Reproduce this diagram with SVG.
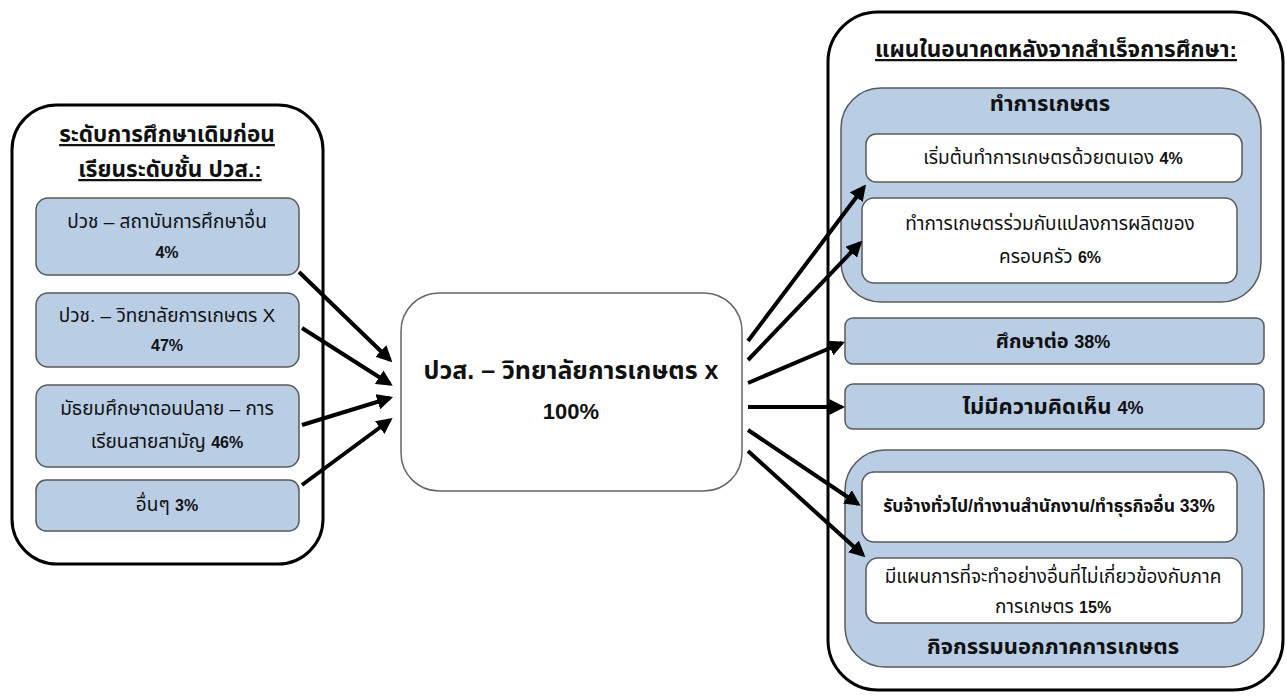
<svg xmlns="http://www.w3.org/2000/svg" width="1287" height="696" viewBox="0 0 1287 696">
<defs>
<style>
.outer{fill:#fff;stroke:#000;stroke-width:3}
.blue{fill:#b9cde5;stroke:#595959;stroke-width:1.5}
.white{fill:#fff;stroke:#595959;stroke-width:1.5}
.center{fill:#fff;stroke:#666;stroke-width:1.5}
text{font-family:"Liberation Sans","Noto Sans","Noto Sans Thai","DejaVu Sans",sans-serif;fill:#111;text-anchor:middle}
.t{font-size:19px}
.p{font-size:16px;font-weight:bold}
.tb{font-size:17.5px;font-weight:bold}
.h{font-size:22.5px;font-weight:bold;text-decoration:underline}
.g{font-size:22px;font-weight:bold}
.g2{font-size:20px;font-weight:bold}
.gp{font-size:18px;font-weight:bold}
.c{font-size:25px;font-weight:bold}
.cp{font-size:22px;font-weight:bold}
.conn line{stroke:#000;stroke-width:4;marker-end:url(#ah)}
</style>
<marker id="ah" markerWidth="4" markerHeight="4" refX="3.2" refY="2" orient="auto" markerUnits="strokeWidth" viewBox="0 0 4 4">
<path d="M0,0 L4,2 L0,4 Z" fill="#000"/>
</marker>
</defs>
<rect width="1287" height="696" fill="#fff"/>

<g id="left-group">
<rect class="outer" x="12" y="105" width="311" height="459" rx="45"/>
<text class="h" x="167" y="142">ระดับการศึกษาเดิมก่อน</text>
<text class="h" x="170" y="177">เรียนระดับชั้น ปวส.:</text>
</g>
<g id="n-pvc-other">
<rect class="blue" x="36" y="198" width="263" height="77" rx="12"/>
<text class="t" x="167" y="228">ปวช – สถาบันการศึกษาอื่น</text>
<text class="p" x="167" y="258">4%</text>
</g>
<g id="n-pvc-x">
<rect class="blue" x="36" y="293" width="263" height="74" rx="12"/>
<text class="t" x="167" y="322">ปวช. – วิทยาลัยการเกษตร X</text>
<text class="p" x="167" y="351">47%</text>
</g>
<g id="n-high-school">
<rect class="blue" x="36" y="385" width="263" height="82" rx="12"/>
<text class="t" x="167" y="415">มัธยมศึกษาตอนปลาย – การ</text>
<text class="t" x="167" y="448">เรียนสายสามัญ <tspan class="p">46%</tspan></text>
</g>
<g id="n-other">
<rect class="blue" x="36" y="480" width="263" height="51" rx="10"/>
<text class="t" x="167" y="511">อื่นๆ <tspan class="p">3%</tspan></text>
</g>

<g id="n-center">
<rect class="center" x="401" y="293" width="341" height="198" rx="38"/>
<text class="c" x="571" y="379">ปวส. – วิทยาลัยการเกษตร x</text>
<text class="cp" x="571" y="419">100%</text>
</g>

<g id="right-group">
<rect class="outer" x="828" y="12" width="455" height="678" rx="50"/>
<text class="h" x="1056" y="57">แผนในอนาคตหลังจากสำเร็จการศึกษา:</text>
</g>
<g id="g-farming">
<rect class="blue" x="841" y="88" width="420" height="214" rx="40"/>
<text class="g" x="1050" y="111">ทำการเกษตร</text>
</g>
<g id="n-start-farm">
<rect class="white" x="866" y="134" width="376" height="48" rx="10"/>
<text class="t" x="1053" y="164">เริ่มต้นทำการเกษตรด้วยตนเอง <tspan class="p">4%</tspan></text>
</g>
<g id="n-family-farm">
<rect class="white" x="862" y="198" width="375" height="85" rx="12"/>
<text class="t" x="1050" y="230">ทำการเกษตรร่วมกับแปลงการผลิตของ</text>
<text class="t" x="1050" y="263">ครอบครัว <tspan class="p">6%</tspan></text>
</g>
<g id="n-study">
<rect class="blue" x="845" y="318" width="419" height="46" rx="8"/>
<text class="g2" x="1053" y="348">ศึกษาต่อ <tspan class="gp">38%</tspan></text>
</g>
<g id="n-no-opinion">
<rect class="blue" x="845" y="384" width="419" height="45" rx="8"/>
<text class="g" x="1053" y="414">ไม่มีความคิดเห็น <tspan class="gp">4%</tspan></text>
</g>
<g id="g-nonfarm">
<rect class="blue" x="845" y="450" width="419" height="217" rx="40"/>
<text class="g" x="1053" y="654">กิจกรรมนอกภาคการเกษตร</text>
</g>
<g id="n-employ">
<rect class="white" x="862" y="472" width="375" height="70" rx="12"/>
<text class="tb" x="1049" y="512">รับจ้างทั่วไป/ทำงานสำนักงาน/ทำธุรกิจอื่น 33%</text>
</g>
<g id="n-non-agri">
<rect class="white" x="866" y="558" width="376" height="65" rx="12"/>
<text class="t" x="1053" y="583">มีแผนการที่จะทำอย่างอื่นที่ไม่เกี่ยวข้องกับภาค</text>
<text class="t" x="1053" y="613">การเกษตร <tspan class="p">15%</tspan></text>
</g>

<g id="connectors" class="conn">
<line x1="299" y1="272" x2="390" y2="360"/>
<line x1="302" y1="328" x2="390" y2="384"/>
<line x1="302" y1="425" x2="390" y2="398"/>
<line x1="302" y1="485" x2="390" y2="420"/>
<line x1="748" y1="341" x2="864" y2="187"/>
<line x1="748" y1="360" x2="860" y2="243"/>
<line x1="748" y1="383" x2="842" y2="343"/>
<line x1="748" y1="407" x2="842" y2="407"/>
<line x1="748" y1="430" x2="858" y2="504"/>
<line x1="748" y1="451" x2="863" y2="555"/>
</g>
</svg>
